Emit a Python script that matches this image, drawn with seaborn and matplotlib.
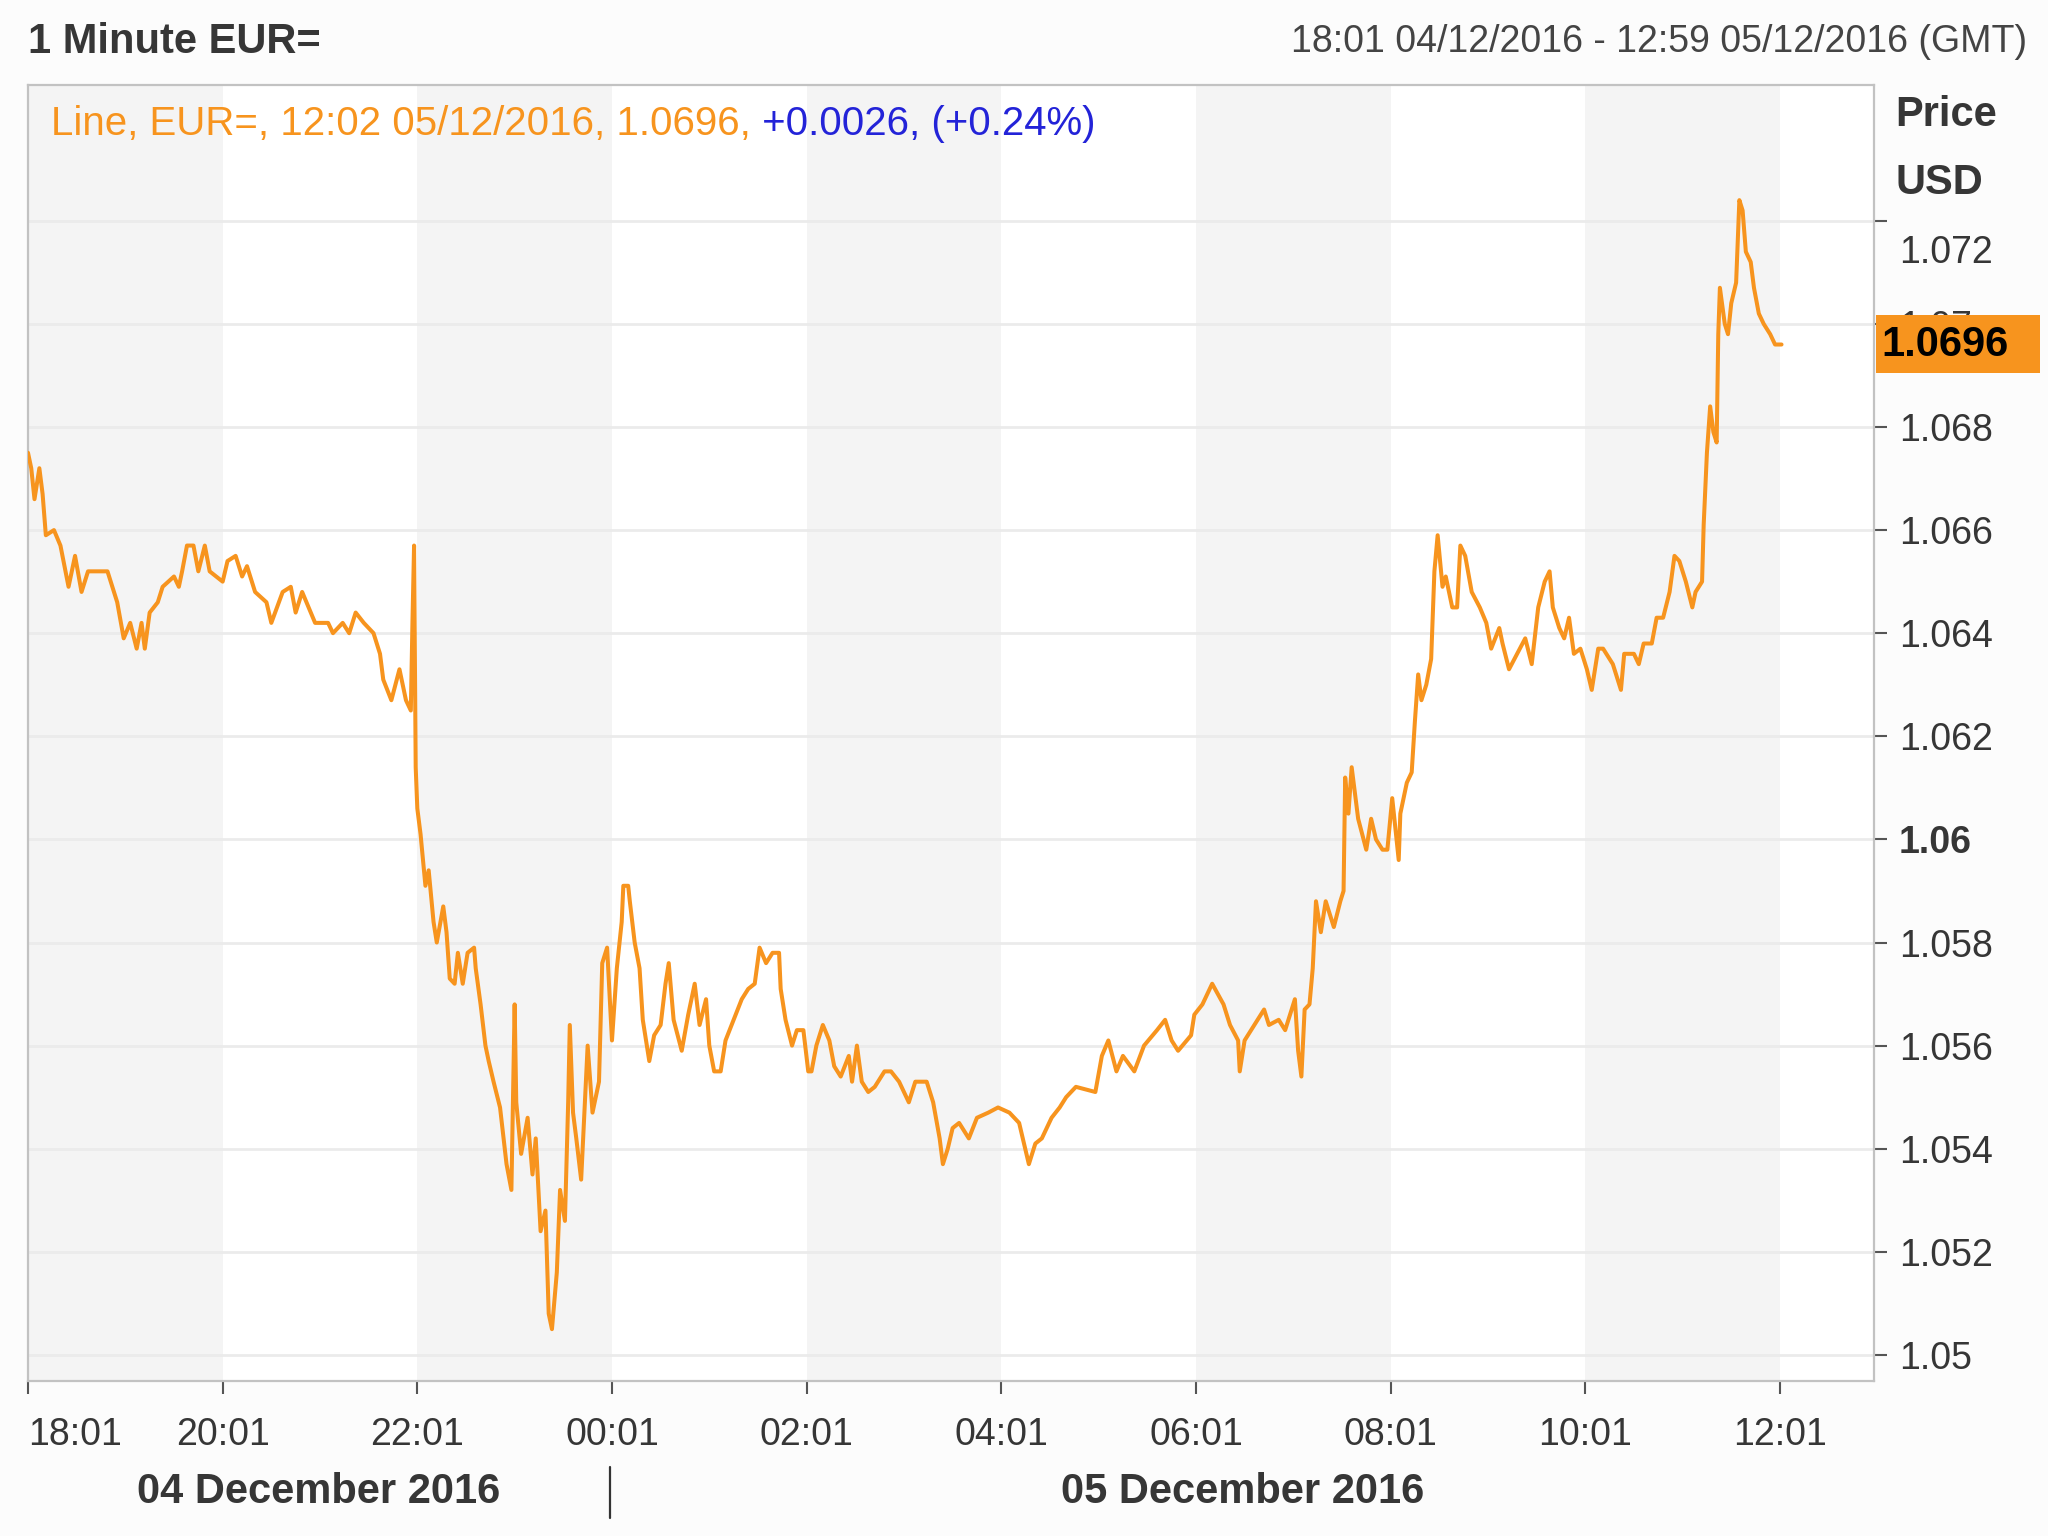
import pandas as pd
import matplotlib
matplotlib.use('Agg')
import matplotlib.pyplot as plt
import matplotlib.dates as mdates
import matplotlib.transforms as mtransforms
from matplotlib.patches import Rectangle
from matplotlib import font_manager
import seaborn as sns

# EUR= 1 minute line
# minutes after 18:01 04/12/2016
minute = [
    0, 2, 4, 7, 9, 11, 16, 20, 25, 29, 33, 37, 49, 55, 59, 63, 67, 70, 72, 75,
    80, 83, 90, 93, 95, 98, 102, 105, 109, 112, 120, 123, 128, 132, 135, 140, 147, 150, 157, 162,
    165, 169, 177, 185, 188, 194, 198, 202, 207, 213, 217, 219, 224, 229, 233, 236, 237, 238, 239, 240,
    242, 245, 247, 250, 252, 256, 258, 260, 263, 265, 268, 271, 275, 276, 279, 282, 284, 287, 291, 295,
    298, 300, 301, 304, 308, 311, 313, 316, 319, 321, 323, 326, 328, 331, 333, 334, 336, 338, 341, 345,
    348, 352, 354, 357, 360, 363, 366, 367, 370, 371, 374, 377, 379, 383, 386, 390, 393, 395, 398, 403,
    407, 411, 414, 418, 420, 423, 427, 430, 435, 440, 444, 448, 451, 455, 459, 463, 464, 467, 471, 474,
    478, 481, 483, 486, 490, 494, 497, 501, 506, 508, 511, 514, 518, 522, 528, 532, 537, 543, 547, 554,
    558, 562, 564, 567, 570, 574, 580, 585, 592, 598, 605, 611, 617, 621, 625, 631, 636,
    640, 646, 658, 662, 666, 671, 675, 682, 688, 696, 701, 705, 709, 717, 719, 724, 730, 737, 741, 746,
    747, 750, 756, 762, 765, 771, 775, 781, 783, 785, 787, 790, 792, 794, 797, 800, 805, 809, 811, 812,
    814, 816, 818, 820, 825, 828, 831, 835, 838, 841, 845, 846, 850, 853, 855, 857, 859, 862, 865, 867,
    869, 872, 874, 878, 881, 883, 886, 890, 895, 899, 902, 907,
    909, 913, 918, 923, 927, 931, 935, 938, 940, 944, 947, 950, 953, 957, 961, 964, 968, 971, 977, 982,
    984, 990, 993, 996, 1001, 1004, 1008, 1012, 1015, 1018, 1022, 1026, 1028, 1032, 1033, 1035, 1037, 1039, 1041, 1042,
    1043, 1046, 1048, 1050, 1053, 1055, 1057, 1059, 1062, 1064, 1067, 1070, 1074, 1077, 1081,
]
price = [
    1.0675, 1.0672, 1.0666, 1.0672, 1.0667, 1.0659, 1.0660, 1.0657, 1.0649, 1.0655,
    1.0648, 1.0652, 1.0652, 1.0646, 1.0639, 1.0642, 1.0637, 1.0642, 1.0637, 1.0644,
    1.0646, 1.0649, 1.0651, 1.0649, 1.0652, 1.0657, 1.0657, 1.0652, 1.0657, 1.0652,
    1.0650, 1.0654, 1.0655, 1.0651, 1.0653, 1.0648, 1.0646, 1.0642, 1.0648, 1.0649,
    1.0644, 1.0648, 1.0642, 1.0642, 1.0640, 1.0642, 1.0640, 1.0644, 1.0642, 1.0640,
    1.0636, 1.0631, 1.0627, 1.0633, 1.0627, 1.0625, 1.0642, 1.0657, 1.0614, 1.0606,
    1.0601, 1.0591, 1.0594, 1.0584, 1.0580, 1.0587, 1.0582, 1.0573, 1.0572, 1.0578,
    1.0572, 1.0578, 1.0579, 1.0575, 1.0568, 1.0560, 1.0557, 1.0553, 1.0548, 1.0537,
    1.0532, 1.0568, 1.0549, 1.0539, 1.0546, 1.0535, 1.0542, 1.0524, 1.0528, 1.0508,
    1.0505, 1.0516, 1.0532, 1.0526, 1.0549, 1.0564, 1.0547, 1.0542, 1.0534, 1.0560,
    1.0547, 1.0553, 1.0576, 1.0579, 1.0561, 1.0575, 1.0584, 1.0591, 1.0591, 1.0588,
    1.0580, 1.0575, 1.0565, 1.0557, 1.0562, 1.0564, 1.0572, 1.0576, 1.0565, 1.0559,
    1.0566, 1.0572, 1.0564, 1.0569, 1.0560, 1.0555, 1.0555, 1.0561, 1.0565, 1.0569,
    1.0571, 1.0572, 1.0579, 1.0576, 1.0578, 1.0578, 1.0571, 1.0565, 1.0560, 1.0563,
    1.0563, 1.0555, 1.0555, 1.0560, 1.0564, 1.0561, 1.0556, 1.0554, 1.0558, 1.0553,
    1.0560, 1.0553, 1.0551, 1.0552, 1.0555, 1.0555, 1.0553, 1.0549, 1.0553, 1.0553,
    1.0549, 1.0542, 1.0537, 1.0540, 1.0544, 1.0545, 1.0542, 1.0546, 1.0547, 1.0548,
    1.0547, 1.0545, 1.0537, 1.0541, 1.0542, 1.0546, 1.0548,
    1.0550, 1.0552, 1.0551, 1.0558, 1.0561, 1.0555, 1.0558, 1.0555, 1.0560, 1.0563,
    1.0565, 1.0561, 1.0559, 1.0562, 1.0566, 1.0568, 1.0572, 1.0568, 1.0564, 1.0561,
    1.0555, 1.0561, 1.0564, 1.0567, 1.0564, 1.0565, 1.0563, 1.0569, 1.0559, 1.0554,
    1.0567, 1.0568, 1.0575, 1.0588, 1.0582, 1.0588, 1.0583, 1.0588, 1.0590, 1.0612,
    1.0605, 1.0614, 1.0609, 1.0604, 1.0598, 1.0604, 1.0600, 1.0598, 1.0598, 1.0608,
    1.0596, 1.0605, 1.0611, 1.0613, 1.0623, 1.0632, 1.0627, 1.0630, 1.0635, 1.0652,
    1.0659, 1.0649, 1.0651, 1.0645, 1.0645, 1.0657, 1.0655, 1.0648, 1.0645, 1.0642,
    1.0637, 1.0641,
    1.0638, 1.0633, 1.0636, 1.0639, 1.0634, 1.0645, 1.0650, 1.0652, 1.0645, 1.0641,
    1.0639, 1.0643, 1.0636, 1.0637, 1.0633, 1.0629, 1.0637, 1.0637, 1.0634, 1.0629,
    1.0636, 1.0636, 1.0634, 1.0638, 1.0638, 1.0643, 1.0643, 1.0648, 1.0655, 1.0654,
    1.0650, 1.0645, 1.0648, 1.0650, 1.0661, 1.0675, 1.0684, 1.0679, 1.0677, 1.0698,
    1.0707, 1.0700, 1.0698, 1.0704, 1.0708, 1.0724, 1.0722, 1.0714, 1.0712, 1.0707,
    1.0702, 1.0700, 1.0698, 1.0696, 1.0696,
]
assert len(minute) == len(price)

start = pd.Timestamp('2016-12-04 18:01')
end = pd.Timestamp('2016-12-05 12:59')
y_ticks = [1.05, 1.052, 1.054, 1.056, 1.058, 1.06, 1.062, 1.064, 1.066, 1.068, 1.07, 1.072]
last_price = 1.0696
title = '1 Minute EUR='
period = '18:01 04/12/2016 - 12:59 05/12/2016 (GMT)'
legend_main = 'Line, EUR=, 12:02 05/12/2016, 1.0696,'
legend_change = ' +0.0026, (+0.24%)'
day_names = ['04 December 2016', '05 December 2016']
day_centres = ['2016-12-04 21:00', '2016-12-05 06:30']

df = pd.DataFrame({'time': start + pd.to_timedelta(minute, unit='min'), 'price': price})

ORANGE = '#F7941E'
BLUE = '#2323D8'
TEXT = '#363636'

sns.set_style('white')
names = {f.name for f in font_manager.fontManager.ttflist}
if 'Liberation Sans Narrow' in names:
    family, k = 'Liberation Sans Narrow', 1.2
else:
    family, k = 'Liberation Sans', 1.0
plt.rcParams['font.family'] = [family, 'DejaVu Sans']


def fs(size):
    return size * k


fig = plt.figure(figsize=(20.48, 15.36), dpi=100, facecolor='#fcfcfc')
ax = fig.add_axes([28 / 2048, 1 - 1381 / 1536, (1874 - 28) / 2048, (1381 - 85) / 1536])
ax.set_facecolor('white')

# alternating 2 hour bands
ticks = pd.date_range(start, periods=10, freq='2h')
for i in range(0, len(ticks) - 1, 2):
    ax.axvspan(ticks[i], ticks[i + 1], color='#f4f4f4', lw=0, zorder=0.3)

sns.lineplot(data=df, x='time', y='price', color=ORANGE, linewidth=2.9,
             estimator=None, ax=ax, zorder=3)

ax.set_xlim(start, end)
ax.set_ylim(1.049494, 1.074634)
ax.set_axisbelow(True)
ax.yaxis.grid(True, color='#ebebeb', lw=2)
ax.xaxis.grid(False)
ax.set_xlabel('')
ax.set_ylabel('')

for s in ax.spines.values():
    s.set_visible(True)
    s.set_color('#c2c2c2')
    s.set_linewidth(1.6)

# x axis
ax.set_xticks(ticks)
ax.xaxis.set_major_formatter(mdates.DateFormatter('%H:%M'))
ax.tick_params(axis='x', direction='out', length=9, width=1.5, color='#555555',
               labelcolor=TEXT, labelsize=fs(27), pad=17, bottom=True)
ax.get_xticklabels()[0].set_ha('left')

# y axis on the right
ax.yaxis.tick_right()
ax.set_yticks(y_ticks)
ax.set_yticklabels([f'{v:.3f}'.rstrip('0') for v in y_ticks])
ax.tick_params(axis='y', direction='out', length=9, width=1.5, color='#555555',
               labelcolor=TEXT, labelsize=fs(27), pad=9, right=True, left=False)
for lab, v in zip(ax.get_yticklabels(), y_ticks):
    if abs(v - 1.06) < 1e-9:
        lab.set_fontweight('bold')
    if abs(v - 1.072) < 1e-9:
        lab.set_transform(lab.get_transform() +
                          mtransforms.ScaledTranslation(0, -0.28, fig.dpi_scale_trans))

# last price box
blend = mtransforms.blended_transform_factory(ax.transAxes, ax.transData)
ax.add_patch(Rectangle((1.001, last_price - 0.00056), 0.089, 0.00113, transform=blend,
                       facecolor=ORANGE, edgecolor='none', clip_on=False, zorder=5))
ax.text(1.004, last_price, f'{last_price:.4f}', transform=blend, fontsize=fs(30),
        fontweight='bold', color='black', ha='left', va='center', zorder=6, clip_on=False)

# legend line
t1 = ax.text(0.0125, 0.970, legend_main, transform=ax.transAxes, color=ORANGE,
             fontsize=fs(29), ha='left', va='center', zorder=4)
ax.annotate(legend_change, xy=(1, 0), xycoords=t1, color=BLUE, fontsize=fs(29),
            ha='left', va='bottom', zorder=4)

# day labels under the time axis
xform = ax.get_xaxis_transform()
for name, c in zip(day_names, day_centres):
    ax.text(mdates.date2num(pd.Timestamp(c)), -0.086, name, transform=xform,
            fontsize=fs(30), fontweight='bold', color=TEXT, ha='center', va='center')
midnight = mdates.date2num(pd.Timestamp('2016-12-05 00:00'))
ax.plot([midnight, midnight], [-0.066, -0.106], transform=xform, clip_on=False,
        color='#333333', lw=1.6)

# header texts
fig.text(28 / 2048, 1 - 42 / 1536, title, fontsize=fs(30), fontweight='bold',
         color=TEXT, ha='left', va='center')
fig.text(2027 / 2048, 1 - 42 / 1536, period, fontsize=fs(27), color='#444444',
         ha='right', va='center')
fig.text(1895 / 2048, 1 - 115 / 1536, 'Price', fontsize=fs(30), fontweight='bold',
         color=TEXT, ha='left', va='center')
fig.text(1895 / 2048, 1 - 183 / 1536, 'USD', fontsize=fs(30), fontweight='bold',
         color=TEXT, ha='left', va='center')

fig.savefig('out.png', dpi=100, facecolor=fig.get_facecolor())
